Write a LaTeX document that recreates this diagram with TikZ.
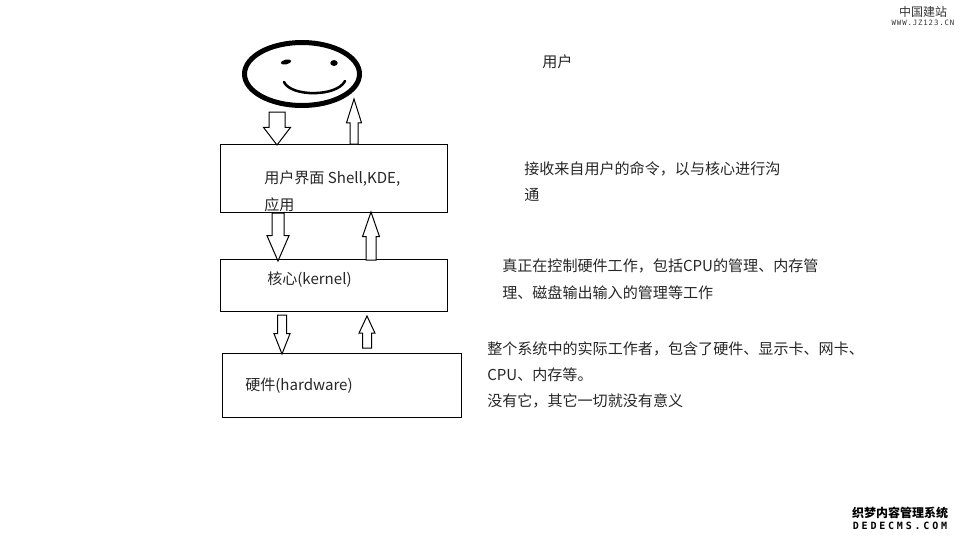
\documentclass[tikz,border=0pt]{standalone}
\usepackage{fontspec}
\setmainfont{Noto Sans CJK SC}
\newfontfamily\markfont[LetterSpace=12]{DejaVu Sans Mono}
\newfontfamily\dedefont[LetterSpace=28]{DejaVu Sans Mono}
\usetikzlibrary{shapes.geometric, shapes.arrows}
\tikzstyle{layer} = [rectangle, draw=black, line width=0.75pt, inner sep=0pt]
\tikzstyle{note} = [anchor=west, inner sep=0pt, yshift=-0.75pt, text=black!85, font=\fontsize{11.3pt}{13pt}\selectfont]
\tikzstyle{eye} = [ellipse, fill=black, inner sep=0pt]
\tikzset{flow/.style n args={4}{single arrow, draw=black, fill=white, line width=0.75pt,
inner xsep=0pt, inner ysep=#2*0.375pt, outer sep=0pt, anchor=tip, minimum height=#1*0.75pt,
minimum width=0pt, single arrow head extend=#3*0.75pt, single arrow tip angle=#4}}

\begin{document}
\begin{tikzpicture}[x=0.75pt, y=-0.75pt]
\useasboundingbox (0,0) rectangle (960,540);

% smiling user
\node(face)[ellipse, draw=black, line width=3.75pt, inner sep=0pt, minimum width=86.25pt,
minimum height=47.25pt] at (302,74){};
\node(eyeL)[eye, minimum width=8pt, minimum height=3.5pt, rotate=12] at (286,62){};
\node(eyeR)[eye, minimum width=5.5pt, minimum height=4.5pt] at (334,63){};
\draw[line width=1.9pt, line cap=round] (284,82) .. controls (291,97) and (337,97) .. (345,81);

% layers
\node(shellBox)[layer, minimum width=170.25pt, minimum height=51pt] at (333.5,178){};
\node(kernelBox)[layer, minimum width=170.25pt, minimum height=39pt] at (333.5,285){};
\node(hardBox)[layer, minimum width=179.25pt, minimum height=48pt] at (341.5,385){};

% block arrows
\node(userDown)[flow={33}{15}{5.5}{75}, rotate=-90] at (277,145){};
\node(userUp)[flow={45}{7}{3.5}{35}, rotate=90] at (354,99){};
\node(shellDown)[flow={48}{11}{5}{47}, rotate=-90] at (278,261){};
\node(shellUp)[flow={48}{9}{3.5}{38}, rotate=90] at (371,212){};
\node(kernelDown)[flow={39}{8}{3.5}{43}, rotate=-90] at (282,354){};
\node(kernelUp)[flow={32}{8}{3.5}{50}, rotate=90] at (367,316){};

% box labels
\node(shellText)[note] at (264,178){用户界面 Shell,KDE,};
\node(shellText2)[note] at (264,204){应用};
\node(kernelText)[note] at (267,279){核心(kernel)};
\node(hardText)[note] at (245,385){硬件(hardware)};

% notes on the right
\node(userNote)[note] at (542,61){用户};
\node(shellNote)[note] at (524,168){接收来自用户的命令，以与核心进行沟};
\node(shellNote2)[note] at (524,194){通};
\node(kernelNote)[note] at (502,265){真正在控制硬件工作，包括CPU的管理、内存管};
\node(kernelNote2)[note] at (502,292){理、磁盘输出输入的管理等工作};
\node(hardNote)[note] at (487,348){整个系统中的实际工作者，包含了硬件、显示卡、网卡、};
\node(hardNote2)[note] at (487,374){CPU、内存等。};
\node(hardNote3)[note] at (487,400){没有它，其它一切就没有意义};

% site marks
\node(siteName)[inner sep=0pt, text=black!80, font=\fontsize{9pt}{10pt}\selectfont] at (923,12){中国建站};
\node(siteUrl)[inner sep=0pt, text=black!80, font=\fontsize{5.5pt}{6pt}\markfont] at (923,23){WWW.JZ123.CN};
\node(dedeName)[inner sep=0pt, font=\fontsize{9pt}{10pt}\bfseries\selectfont] at (900,513){织梦内容管理系统};
\node(dedeUrl)[inner sep=0pt, font=\fontsize{7.5pt}{8pt}\dedefont\bfseries] at (900,526){DEDECMS.COM};
\end{tikzpicture}
\end{document}
